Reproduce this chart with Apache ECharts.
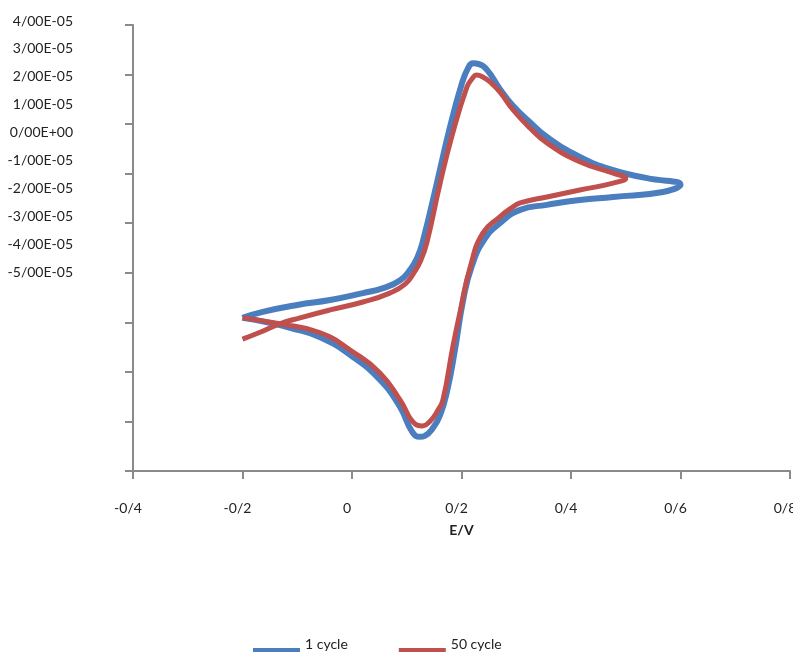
<!DOCTYPE html>
<html>
<head>
<meta charset="utf-8">
<script src="https://cdn.jsdelivr.net/npm/echarts@6/dist/echarts.min.js"></script>
<style>
html,body{margin:0;padding:0;background:#ffffff;overflow:hidden;}
#chart{width:793px;height:655px;}
</style>
</head>
<body>
<div id="chart"></div>
<script>
// Tick labels (as printed in the original figure)
const yTickLabels = ['4/00E-05','3/00E-05','2/00E-05','1/00E-05','0/00E+00','-1/00E-05','-2/00E-05','-3/00E-05','-4/00E-05','-5/00E-05'];
const xTickLabels = ['-0/4','-0/2','0','0/2','0/4','0/6','0/8'];
const seriesNames = ['1 cycle', '50 cycle'];
const xName = 'E/V';

// Potential E (V) and current I (units of 1e-5 A) — 1 cycle
const cycle1E = [-0.200,-0.163,-0.100,-0.040,0.020,0.057,0.088,0.106,0.119,0.130,0.155,0.179,0.201,0.212,0.221,0.232,0.247,0.270,0.294,0.325,0.356,0.416,0.477,0.539,0.600,
                 0.568,0.477,0.416,0.356,0.307,0.270,0.241,0.219,0.203,0.188,0.174,0.161,0.148,0.133,0.124,0.110,0.088,0.051,0.002,-0.058,-0.113,-0.159,-0.200];
const cycle1I = [-1.91,-1.79,-1.65,-1.55,-1.41,-1.31,-1.15,-0.94,-0.70,-0.34,0.81,1.94,2.83,3.13,3.23,3.21,3.09,2.71,2.37,2.04,1.74,1.34,1.07,0.91,0.78,
                 0.63,0.53,0.47,0.37,0.27,0.00,-0.34,-0.86,-1.55,-2.56,-3.37,-3.87,-4.13,-4.29,-4.31,-4.21,-3.71,-3.16,-2.70,-2.30,-2.11,-1.99,-1.91];

// Potential E (V) and current I (units of 1e-5 A) — 50 cycle
const cycle50E = [-0.200,-0.168,-0.132,-0.095,-0.040,0.020,0.069,0.097,0.113,0.126,0.137,0.161,0.184,0.210,0.219,0.228,0.239,0.252,0.270,0.294,0.325,0.356,0.416,0.477,0.500,
                  0.477,0.416,0.356,0.307,0.294,0.270,0.239,0.216,0.197,0.184,0.166,0.157,0.143,0.128,0.115,0.088,0.051,0.002,-0.058,-0.132,-0.200];
const cycle50I = [-2.34,-2.20,-2.03,-1.91,-1.75,-1.59,-1.41,-1.23,-1.00,-0.74,-0.38,0.81,1.82,2.75,2.91,2.99,2.95,2.85,2.65,2.29,1.92,1.62,1.24,1.01,0.91,
                  0.81,0.67,0.53,0.41,0.33,0.13,-0.20,-0.88,-1.81,-2.50,-3.57,-3.77,-3.99,-4.09,-4.05,-3.57,-3.02,-2.60,-2.21,-2.03,-1.91];

const zip = (xs, ys) => xs.map((x, i) => [x, ys[i]]);

const FONT = 'Lato, "Open Sans", "Liberation Sans", sans-serif';
const AXIS_COLOR = '#8a8a8a';
const BLUE = '#4a7ebf';
const RED = '#c0504d';

const chart = echarts.init(document.getElementById('chart'), null, {renderer: 'canvas'});
chart.setOption({
  animation: false,
  backgroundColor: '#ffffff',
  textStyle: {fontFamily: FONT},
  grid: [
    {left: 133, right: 3, top: 25, bottom: 184, containLabel: false, outerBoundsMode: 'none'},
    {left: 133, width: 1, top: 21, height: 251, containLabel: false, outerBoundsMode: 'none'}
  ],
  xAxis: [
    {
      type: 'value', gridIndex: 0, min: -0.4, max: 0.8, interval: 0.2,
      name: xName, nameLocation: 'middle', nameGap: 52,
      nameTextStyle: {fontFamily: FONT, fontSize: 14, fontWeight: 'bold', color: '#222'},
      axisLine: {show: true, onZero: false, lineStyle: {color: AXIS_COLOR, width: 2}},
      axisTick: {show: true, length: 8, lineStyle: {color: AXIS_COLOR, width: 2}},
      splitLine: {show: false},
      axisLabel: {
        margin: 30, fontFamily: FONT, fontSize: 14, color: '#222', padding: [0, 10, 0, 0],
        formatter: v => xTickLabels[Math.round((v + 0.4) / 0.2)]
      }
    },
    {type: 'value', gridIndex: 1, show: false}
  ],
  yAxis: [
    {
      type: 'value', gridIndex: 0, min: -5, max: 4, interval: 1,
      axisLine: {show: true, onZero: false, lineStyle: {color: AXIS_COLOR, width: 2}},
      axisTick: {show: true, length: 8, lineStyle: {color: AXIS_COLOR, width: 2}},
      splitLine: {show: false},
      axisLabel: {show: false}
    },
    {
      type: 'category', gridIndex: 1, data: yTickLabels, inverse: true, boundaryGap: false,
      axisLine: {show: false}, axisTick: {show: false}, splitLine: {show: false},
      axisLabel: {margin: 60, fontFamily: FONT, fontSize: 14, color: '#222', interval: 0}
    }
  ],
  legend: {
    data: seriesNames,
    left: 253, top: 636, padding: 0,
    itemWidth: 47, itemHeight: 16, itemGap: 51,
    icon: 'path://M0,0M0,12L47,12L47,16L0,16Z',
    textStyle: {fontFamily: FONT, fontSize: 14, color: '#222'}
  },
  series: [
    {
      name: seriesNames[0], type: 'line', xAxisIndex: 0, yAxisIndex: 0,
      data: zip(cycle1E, cycle1I), smooth: 0.5, showSymbol: false, symbol: 'none',
      color: BLUE, itemStyle: {color: BLUE}, lineStyle: {color: BLUE, width: 6}
    },
    {
      name: seriesNames[1], type: 'line', xAxisIndex: 0, yAxisIndex: 0,
      data: zip(cycle50E, cycle50I), smooth: 0.5, showSymbol: false, symbol: 'none',
      color: RED, itemStyle: {color: RED}, lineStyle: {color: RED, width: 5}
    }
  ]
});
</script>
</body>
</html>
